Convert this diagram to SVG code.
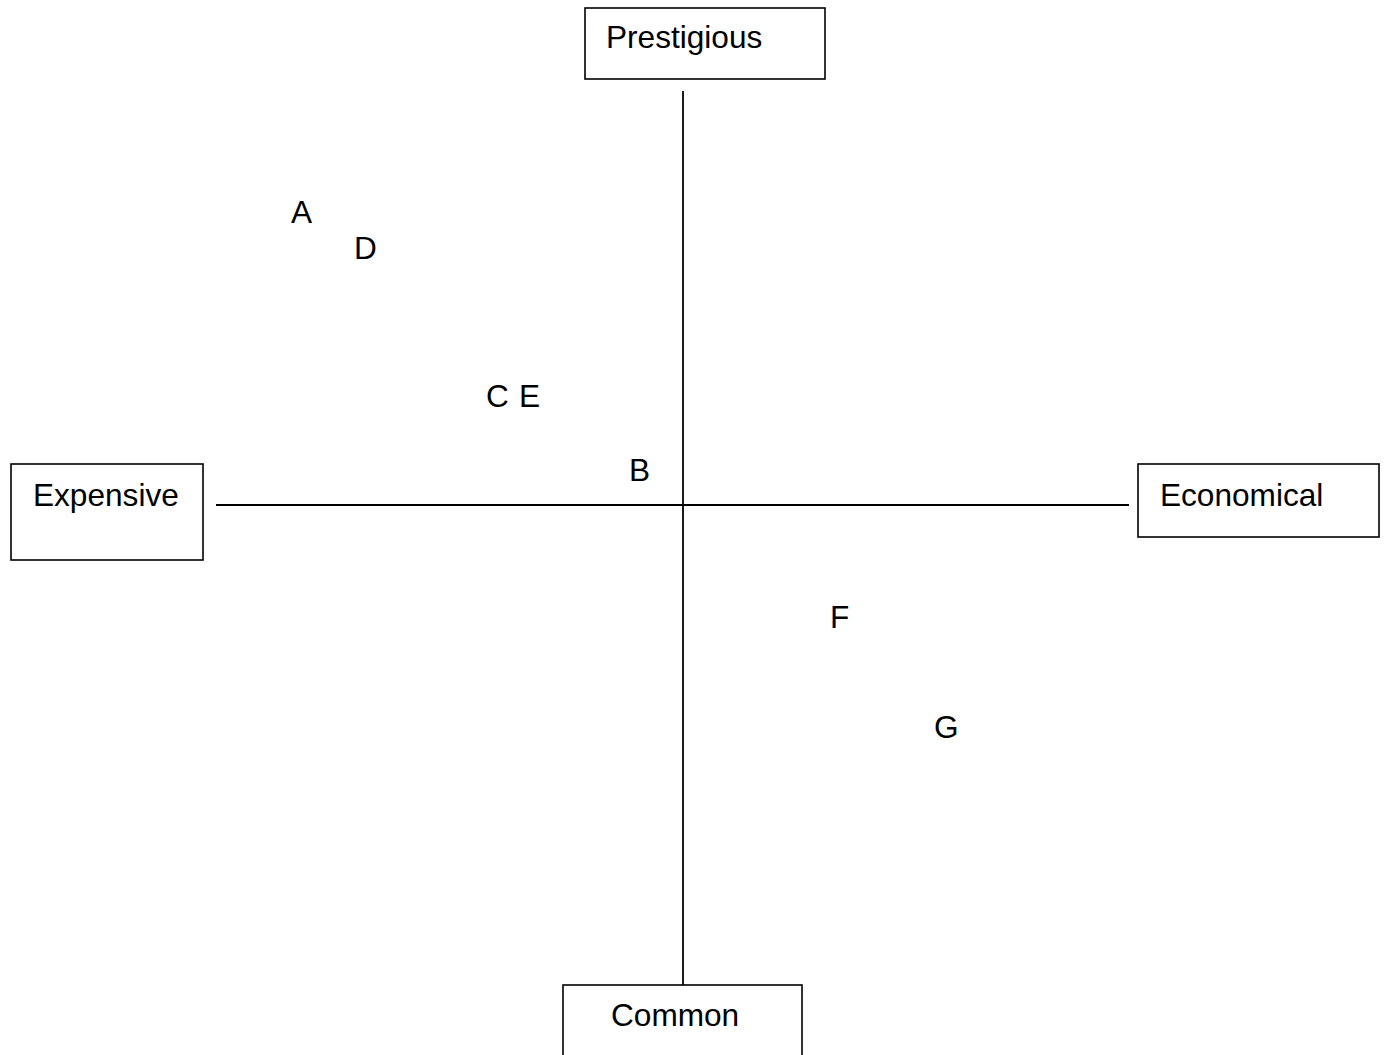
<svg xmlns="http://www.w3.org/2000/svg" width="1386" height="1055" viewBox="0 0 1386 1055">
<style>
.box{fill:#fff;stroke:#000;stroke-width:1.6}
.lbl{font-family:"Liberation Sans",Arial,sans-serif;font-size:31.6px;fill:#000}
.axis{stroke:#000;stroke-width:1.8;fill:none}
</style>
<rect width="1386" height="1055" fill="#fff"/>
<g id="connectors">
<line class="axis" x1="683" y1="91" x2="683" y2="985"/>
<line class="axis" x1="216" y1="505" x2="1129" y2="505"/>
</g>
<g id="prestigious"><rect class="box" x="585" y="8" width="240" height="71"/><text class="lbl" x="606" y="48">Prestigious</text></g>
<g id="expensive"><rect class="box" x="11" y="464" width="192" height="96"/><text class="lbl" x="33" y="506">Expensive</text></g>
<g id="economical"><rect class="box" x="1138" y="464" width="241" height="73"/><text class="lbl" x="1160" y="506">Economical</text></g>
<g id="common"><rect class="box" x="563" y="985" width="239" height="80"/><text class="lbl" x="611" y="1026">Common</text></g>
<g id="points">
<text class="lbl" x="291" y="223">A</text>
<text class="lbl" x="354" y="259">D</text>
<text class="lbl" x="486" y="407">C</text>
<text class="lbl" x="519" y="407">E</text>
<text class="lbl" x="629" y="481">B</text>
<text class="lbl" x="830" y="628">F</text>
<text class="lbl" x="934" y="738">G</text>
</g>
</svg>
